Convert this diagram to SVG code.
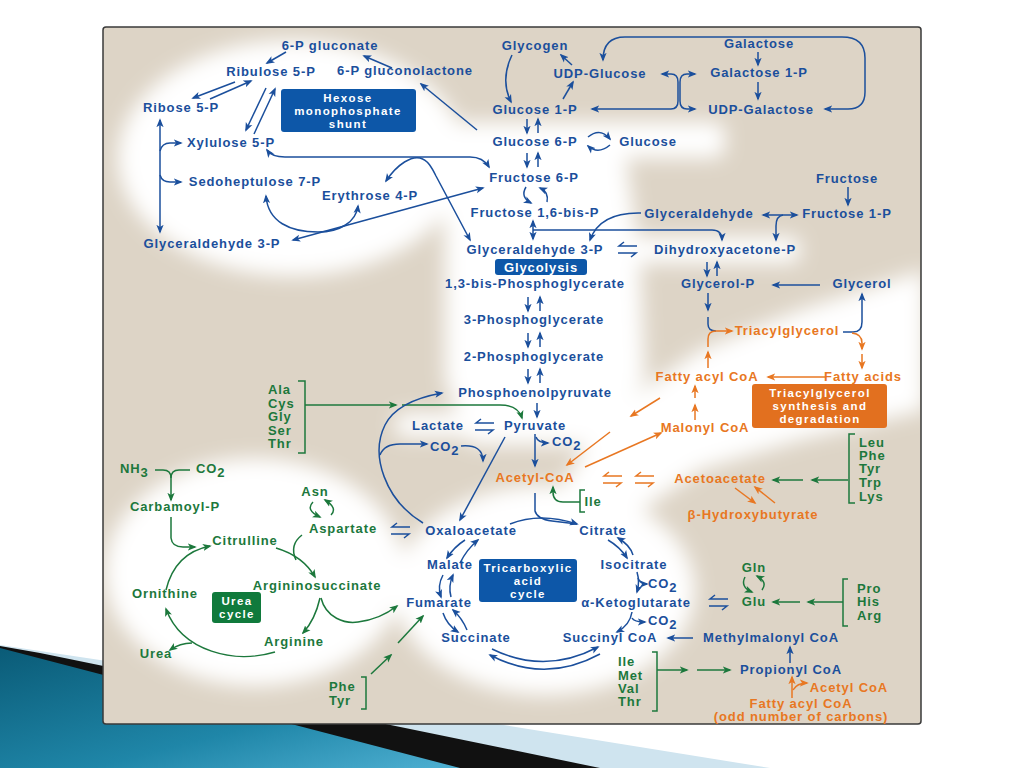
<svg xmlns="http://www.w3.org/2000/svg" width="1024" height="768" viewBox="0 0 1024 768">
<defs>
<style>
.t{font-family:"Liberation Sans",Arial,Helvetica,sans-serif;font-weight:bold;font-size:13px;letter-spacing:0.9px;text-anchor:middle}
.bx{font-size:11.5px;letter-spacing:1.4px}
.s{text-anchor:start}
.b{fill:#1b4f9c}.g{fill:#1c783c}.o{fill:#e87722}.w{fill:#fff}
.cb{fill:none;stroke:#1b4f9c;stroke-width:1.5;marker-end:url(#mb)}
.cg{fill:none;stroke:#1c783c;stroke-width:1.5;marker-end:url(#mg)}
.co{fill:none;stroke:#e87722;stroke-width:1.5;marker-end:url(#mo)}
.db{marker-start:url(#mb)}
.n{marker-end:none}
</style>
<marker id="mb" viewBox="0 0 10 10" refX="8" refY="5" markerWidth="9" markerHeight="9" markerUnits="userSpaceOnUse" orient="auto-start-reverse"><path d="M0,1L10,5L0,9L2.5,5z" fill="#1b4f9c"/></marker>
<marker id="mg" viewBox="0 0 10 10" refX="8" refY="5" markerWidth="9" markerHeight="9" markerUnits="userSpaceOnUse" orient="auto-start-reverse"><path d="M0,1L10,5L0,9L2.5,5z" fill="#1c783c"/></marker>
<marker id="mo" viewBox="0 0 10 10" refX="8" refY="5" markerWidth="9" markerHeight="9" markerUnits="userSpaceOnUse" orient="auto-start-reverse"><path d="M0,1L10,5L0,9L2.5,5z" fill="#e87722"/></marker>
<linearGradient id="teal" x1="0" y1="0" x2="1" y2="1"><stop offset="0" stop-color="#0a5b77"/><stop offset="0.6" stop-color="#1f86a8"/><stop offset="1" stop-color="#4fb0d2"/></linearGradient>
<filter id="blur" x="-30%" y="-30%" width="160%" height="160%"><feGaussianBlur stdDeviation="10"/></filter>
<clipPath id="pc"><rect x="104" y="28" width="816" height="695"/></clipPath>
<g id="hpb" fill="none" stroke="#1b4f9c" stroke-width="1.5"><path d="M19,0H1l5,-4M0,7H18l-5,4"/></g>
<g id="hpo" fill="none" stroke="#e87722" stroke-width="1.5"><path d="M19,0H1l5,-4M0,7H18l-5,4"/></g>
</defs>

<rect x="0" y="0" width="1024" height="768" fill="#ffffff"/>
<g id="slide-decoration">
<polygon points="0,645 100,660 770,768 0,768" fill="#cfe4ef"/>
<polygon points="0,646 40,653 600,768 0,768" fill="#111111"/>
<polygon points="0,648 460,768 0,768" fill="url(#teal)"/>
</g>

<g id="panel">
<rect x="103" y="27" width="818" height="697" rx="3" fill="#ddd4c6" stroke="#3a3a3a" stroke-width="1.5"/>
<g clip-path="url(#pc)"><g filter="url(#blur)" fill="#ffffff">
<ellipse cx="292" cy="158" rx="174" ry="118"/>
<rect x="455" y="122" width="270" height="36" rx="10"/>
<path d="M445,150 L625,150 L640,260 L645,380 L600,445 L470,445 L445,380 Z"/>
<rect x="600" y="237" width="200" height="26" rx="8"/>
<rect x="395" y="413" width="200" height="24" rx="8"/>
<path d="M540,525 L600,420 L700,350 L800,310 L925,270 L925,410 L800,440 L700,470 L620,525 Z"/>
<ellipse cx="545" cy="590" rx="150" ry="105"/>
<ellipse cx="255" cy="572" rx="150" ry="114"/>
</g></g>
</g>

<g id="connectors">
<path class="cb" d="M286,52 L267,63"/>
<path class="cb" d="M392,68 L364,56"/>
<path class="cb" d="M477,130 L421,84"/>
<path class="cb" d="M235,82 L193,98"/>
<path class="cb" d="M210,99 L251,81"/>
<path class="cb" d="M266,88 L246,130"/>
<path class="cb" d="M254,134 L275,89"/>
<path class="cb db" d="M160,120 L160,232"/>
<path class="cb" d="M160,151 Q162,143 170,143 L181,143"/>
<path class="cb" d="M160,175 Q162,182 170,182 L181,182"/>
<path class="cb db" d="M267,150 Q272,157 285,157 L470,157 Q483,157 489,167"/>
<path class="cb db" d="M386,181 C398,163 412,156 420,158 C428,160 432,168 436,176 L470,240"/>
<path class="cb db" d="M293,240 L483,188"/>
<path class="cb db" d="M266,196 C268,222 290,232 318,232 C340,232 356,222 358,206"/>
<path class="cb" d="M512,55 Q500,80 511,102"/>
<path class="cb" d="M563,99 L573,82"/>
<path class="cb" d="M572,65 L561,55"/>
<path class="cb db" d="M825,109 L848,109 Q865,109 865,92 L865,58 Q865,37 842,37 L625,37 Q603,37 603,60"/>
<path class="cb db" d="M662,74 L671,74 Q678,74 678,82 L678,101 Q678,109 671,109 L592,109"/>
<path class="cb db" d="M695,74 L687,74 Q680,74 680,82 L680,101 Q680,109 687,109 L695,109"/>
<path class="cb" d="M758,52 L758,65"/>
<path class="cb" d="M758,82 L758,99"/>
<path class="cb" d="M527,119 L527,133"/>
<path class="cb" d="M538,133 L538,119"/>
<path class="cb" d="M588,137 Q600,127 610,139"/>
<path class="cb" d="M610,145 Q598,155 588,146"/>
<path class="cb" d="M527,153 L527,167"/>
<path class="cb" d="M538,167 L538,153"/>
<path class="cb" d="M526,187 Q520,197 531,203"/>
<path class="cb" d="M547,202 Q549,192 540,188"/>
<path class="cb db" d="M533,221 L533,239"/>
<path class="cb" d="M533,230 L712,230 Q722,230 722,240"/>
<path class="cb" d="M641,213 Q600,212 590,240"/>
<use href="#hpb" x="618" y="246"/>
<path class="cb" d="M848,187 L848,205"/>
<path class="cb db" d="M763,215 L797,215"/>
<path class="cb" d="M783,215 Q776,216 776,226 L776,240"/>
<path class="cb" d="M707,262 L707,276"/>
<path class="cb" d="M717,276 L717,262"/>
<path class="cb" d="M820,285 L773,285"/>
<path class="cb" d="M708,293 L708,310"/>
<path class="cb n" d="M708,317 L708,324 Q708,331 716,331"/>
<path class="co" d="M708,347 L708,339 Q708,331 716,331 L732,331"/>
<path class="co" d="M708,368 L708,352"/>
<path class="cb" d="M843,332 L853,332 Q862,332 862,322 L862,294"/>
<path class="co" d="M852,333 Q862,334 862,343 L862,349"/>
<path class="co" d="M862,354 L862,368"/>
<path class="co" d="M825,377 L768,377"/>
<path class="co" d="M695,420 L695,405"/>
<path class="co" d="M695,398 L695,386"/>
<path class="co" d="M660,398 L631,416"/>
<path class="co" d="M610,432 L567,465"/>
<path class="co" d="M585,467 L661,433"/>
<use href="#hpo" x="603" y="476"/>
<use href="#hpo" x="635" y="476"/>
<path class="co" d="M735,488 L755,503"/>
<path class="co" d="M775,503 L755,487"/>
<path fill="none" stroke="#1c783c" stroke-width="1.5" d="M855,434 L849,434 L849,503 L855,503"/>
<path class="cg" d="M848,480 L812,480"/>
<path class="cg" d="M803,480 L773,480"/>
<path class="cb" d="M528,297 L528,311"/>
<path class="cb" d="M540,311 L540,297"/>
<path class="cb" d="M528,333 L528,347"/>
<path class="cb" d="M540,347 L540,333"/>
<path class="cb" d="M528,369 L528,383"/>
<path class="cb" d="M540,383 L540,369"/>
<path fill="none" stroke="#1c783c" stroke-width="1.5" d="M298,381 L305,381 L305,453 L298,453"/>
<path class="cg" d="M305,405 L396,405"/>
<path class="cg" d="M402,405 L500,405 Q518,405 522,418"/>
<path class="cb" d="M537,403 L537,417"/>
<use href="#hpb" x="475" y="423"/>
<path class="cb" d="M535,434 L535,466"/>
<path class="cb" d="M536,437 Q538,443 548,443"/>
<path class="cb" d="M505,437 L460,520"/>
<path class="cb" d="M423,523 C385,500 370,455 385,425 C395,405 420,397 442,393"/>
<path class="cb" d="M380,455 C383,447 390,444 400,444 L427,444"/>
<path class="cb" d="M461,446 Q483,444 483,461"/>
<path class="cb n" d="M535,493 L535,511 Q537,519 552,521 L577,524"/>
<path class="cb" d="M510,524 Q540,512 577,524"/>
<path fill="none" stroke="#1c783c" stroke-width="1.5" d="M585,490 L580,490 L580,512 L585,512"/>
<path class="cg" d="M580,502 L563,502 Q553,502 553,492 L553,487"/>
<path class="cb" d="M465,540 Q454,547 447,558"/>
<path class="cb" d="M460,563 Q467,549 478,540"/>
<path class="cb" d="M443,575 Q437,586 441,597"/>
<path class="cb" d="M451,597 Q448,586 453,575"/>
<path class="cb" d="M443,613 Q447,625 458,632"/>
<path class="cb" d="M467,630 Q462,618 453,610"/>
<path class="cb" d="M492,649 Q545,675 598,647"/>
<path class="cb" d="M600,654 Q545,684 490,655"/>
<path class="cb" d="M608,540 Q620,547 627,558"/>
<path class="cb" d="M633,555 Q630,545 618,538"/>
<path class="cb" d="M637,572 Q640,582 637,592"/>
<path class="cb" d="M638,578 Q640,584 647,584"/>
<path class="cb" d="M632,612 Q630,625 617,632"/>
<path class="cb" d="M632,618 Q634,622 645,622"/>
<path class="cb" d="M693,638 L668,638"/>
<path class="cb" d="M790,663 L790,647"/>
<path fill="none" stroke="#1c783c" stroke-width="1.5" d="M652,652 L657,652 L657,711 L652,711"/>
<path class="cg" d="M657,670 L687,670"/>
<path class="cg" d="M697,670 L730,670"/>
<path class="co" d="M792,698 L792,677"/>
<path class="co" d="M793,690 Q797,683 807,683"/>
<path fill="none" stroke="#1c783c" stroke-width="1.5" d="M848,579 L843,579 L843,626 L848,626"/>
<path class="cg" d="M843,602 L808,602"/>
<path class="cg" d="M800,602 L773,602"/>
<path class="cg" d="M745,577 Q740,587 752,592"/>
<path class="cg" d="M762,590 Q768,582 757,576"/>
<use href="#hpb" x="709" y="599"/>
<use href="#hpb" x="391" y="527"/>
<path class="cg" d="M155,470 L163,470 Q171,470 171,478 L171,500"/>
<path fill="none" stroke="#1c783c" stroke-width="1.5" d="M190,470 L179,470 Q171,470 171,478"/>
<path class="cg" d="M171,517 L171,538 Q172,547 183,547 L195,547"/>
<path class="cg" d="M166,590 Q175,553 210,546"/>
<path class="cg" d="M276,548 Q303,556 315,577"/>
<path fill="none" stroke="#1c783c" stroke-width="1.5" d="M302,535 Q289,545 296,560"/>
<path class="cg" d="M313,502 Q305,510 320,517"/>
<path class="cg" d="M331,515 Q338,508 325,500"/>
<path class="cg" d="M320,598 Q315,620 303,633"/>
<path class="cg" d="M321,598 C326,618 345,624 358,622 C375,620 388,613 397,606"/>
<path class="cg" d="M275,652 C235,664 182,652 166,609"/>
<path class="cg" d="M192,643 Q180,643 170,650"/>
<path fill="none" stroke="#1c783c" stroke-width="1.5" d="M361,677 L366,677 L366,709 L361,709"/>
<path class="cg" d="M371,674 L391,655"/>
<path class="cg" d="M398,643 L423,616"/>
</g>

<g id="hmp-box"><rect x="281" y="89" width="135" height="43" rx="3" fill="#0d57a8"/>
<text class="t bx w" x="348" y="102">Hexose</text><text class="t bx w" x="348" y="115">monophosphate</text><text class="t bx w" x="348" y="128">shunt</text></g>
<g id="glycolysis-box"><rect x="495" y="259" width="92" height="16" rx="3" fill="#0d57a8"/><text class="t w" x="541" y="272">Glycolysis</text></g>
<g id="tca-box"><rect x="479" y="559" width="98" height="43" rx="3" fill="#0d57a8"/>
<text class="t bx w" x="528" y="572">Tricarboxylic</text><text class="t bx w" x="528" y="585">acid</text><text class="t bx w" x="528" y="598">cycle</text></g>
<g id="urea-box"><rect x="212" y="592" width="49" height="31" rx="3" fill="#107a3c"/>
<text class="t bx w" x="237" y="605">Urea</text><text class="t bx w" x="237" y="618">cycle</text></g>
<g id="tag-box"><rect x="752" y="384" width="135" height="44" rx="3" fill="#e2701f"/>
<text class="t bx w" x="820" y="397">Triacylglycerol</text><text class="t bx w" x="820" y="410">synthesis and</text><text class="t bx w" x="820" y="423">degradation</text></g>

<g id="n-6pgluconate"><text class="t b" x="330" y="50">6-P gluconate</text></g>
<g id="n-ribulose5p"><text class="t b" x="271" y="76">Ribulose 5-P</text></g>
<g id="n-6pgluconolactone"><text class="t b" x="405" y="75">6-P gluconolactone</text></g>
<g id="n-ribose5p"><text class="t b" x="181" y="112">Ribose 5-P</text></g>
<g id="n-xylulose5p"><text class="t b" x="231" y="147">Xylulose 5-P</text></g>
<g id="n-sedoheptulose7p"><text class="t b" x="255" y="186">Sedoheptulose 7-P</text></g>
<g id="n-erythrose4p"><text class="t b" x="370" y="200">Erythrose 4-P</text></g>
<g id="n-ga3p-left"><text class="t b" x="212" y="248">Glyceraldehyde 3-P</text></g>
<g id="n-glycogen"><text class="t b" x="535" y="50">Glycogen</text></g>
<g id="n-udpglucose"><text class="t b" x="600" y="78">UDP-Glucose</text></g>
<g id="n-galactose"><text class="t b" x="759" y="48">Galactose</text></g>
<g id="n-galactose1p"><text class="t b" x="759" y="77">Galactose 1-P</text></g>
<g id="n-glucose1p"><text class="t b" x="535" y="114">Glucose 1-P</text></g>
<g id="n-udpgalactose"><text class="t b" x="761" y="114">UDP-Galactose</text></g>
<g id="n-glucose6p"><text class="t b" x="535" y="146">Glucose 6-P</text></g>
<g id="n-glucose"><text class="t b" x="648" y="146">Glucose</text></g>
<g id="n-fructose"><text class="t b" x="847" y="183">Fructose</text></g>
<g id="n-fructose6p"><text class="t b" x="534" y="182">Fructose 6-P</text></g>
<g id="n-fructose16bp"><text class="t b" x="535" y="217">Fructose 1,6-bis-P</text></g>
<g id="n-glyceraldehyde"><text class="t b" x="699" y="218">Glyceraldehyde</text></g>
<g id="n-fructose1p"><text class="t b" x="847" y="218">Fructose 1-P</text></g>
<g id="n-ga3p"><text class="t b" x="535" y="254">Glyceraldehyde 3-P</text></g>
<g id="n-dhap"><text class="t b" x="725" y="254">Dihydroxyacetone-P</text></g>
<g id="n-13bpg"><text class="t b" x="535" y="288">1,3-bis-Phosphoglycerate</text></g>
<g id="n-glycerolp"><text class="t b" x="718" y="288">Glycerol-P</text></g>
<g id="n-glycerol"><text class="t b" x="862" y="288">Glycerol</text></g>
<g id="n-3pg"><text class="t b" x="534" y="324">3-Phosphoglycerate</text></g>
<g id="n-tag"><text class="t o" x="787" y="335">Triacylglycerol</text></g>
<g id="n-2pg"><text class="t b" x="534" y="361">2-Phosphoglycerate</text></g>
<g id="n-fattyacylcoa"><text class="t o" x="707" y="381">Fatty acyl CoA</text></g>
<g id="n-fattyacids"><text class="t o" x="863" y="381">Fatty acids</text></g>
<g id="n-pep"><text class="t b" x="535" y="397">Phosphoenolpyruvate</text></g>
<g id="n-aa-pyruvate"><text class="t g s" x="268" y="394">Ala</text><text class="t g s" x="268" y="408">Cys</text><text class="t g s" x="268" y="421">Gly</text><text class="t g s" x="268" y="435">Ser</text><text class="t g s" x="268" y="448">Thr</text></g>
<g id="n-lactate"><text class="t b" x="438" y="430">Lactate</text></g>
<g id="n-pyruvate"><text class="t b" x="535" y="430">Pyruvate</text></g>
<g id="n-co2-pdh"><text class="t b s" x="552" y="446">CO<tspan dy="4">2</tspan></text></g>
<g id="n-malonylcoa"><text class="t o" x="705" y="432">Malonyl CoA</text></g>
<g id="n-aa-ketogenic"><text class="t g s" x="859" y="447">Leu</text><text class="t g s" x="859" y="460">Phe</text><text class="t g s" x="859" y="473">Tyr</text><text class="t g s" x="859" y="487">Trp</text><text class="t g s" x="859" y="501">Lys</text></g>
<g id="n-co2-pc"><text class="t b s" x="430" y="451">CO<tspan dy="4">2</tspan></text></g>
<g id="n-nh3"><text class="t g s" x="120" y="473">NH<tspan dy="4">3</tspan></text></g>
<g id="n-co2-urea"><text class="t g s" x="196" y="473">CO<tspan dy="4">2</tspan></text></g>
<g id="n-acetylcoa"><text class="t o" x="535" y="482">Acetyl-CoA</text></g>
<g id="n-acetoacetate"><text class="t o" x="720" y="483">Acetoacetate</text></g>
<g id="n-asn"><text class="t g" x="315" y="496">Asn</text></g>
<g id="n-ile-acetyl"><text class="t g" x="593" y="506">Ile</text></g>
<g id="n-carbamoylp"><text class="t g" x="175" y="511">Carbamoyl-P</text></g>
<g id="n-bhb"><text class="t o" x="753" y="519">β-Hydroxybutyrate</text></g>
<g id="n-aspartate"><text class="t g" x="343" y="533">Aspartate</text></g>
<g id="n-oxaloacetate"><text class="t b" x="471" y="535">Oxaloacetate</text></g>
<g id="n-citrate"><text class="t b" x="603" y="535">Citrate</text></g>
<g id="n-citrulline"><text class="t g" x="245" y="545">Citrulline</text></g>
<g id="n-malate"><text class="t b" x="450" y="569">Malate</text></g>
<g id="n-isocitrate"><text class="t b" x="634" y="569">Isocitrate</text></g>
<g id="n-gln"><text class="t g" x="754" y="572">Gln</text></g>
<g id="n-argininosuccinate"><text class="t g" x="317" y="590">Argininosuccinate</text></g>
<g id="n-co2-idh"><text class="t b s" x="648" y="588">CO<tspan dy="4">2</tspan></text></g>
<g id="n-ornithine"><text class="t g" x="165" y="598">Ornithine</text></g>
<g id="n-aa-glu"><text class="t g s" x="857" y="593">Pro</text><text class="t g s" x="857" y="606">His</text><text class="t g s" x="857" y="620">Arg</text></g>
<g id="n-fumarate"><text class="t b" x="439" y="607">Fumarate</text></g>
<g id="n-akg"><text class="t b" x="636" y="607">α-Ketoglutarate</text></g>
<g id="n-glu"><text class="t g" x="754" y="606">Glu</text></g>
<g id="n-co2-akgdh"><text class="t b s" x="648" y="625">CO<tspan dy="4">2</tspan></text></g>
<g id="n-succinate"><text class="t b" x="476" y="642">Succinate</text></g>
<g id="n-succinylcoa"><text class="t b" x="610" y="642">Succinyl CoA</text></g>
<g id="n-methylmalonylcoa"><text class="t b" x="771" y="642">Methylmalonyl CoA</text></g>
<g id="n-arginine"><text class="t g" x="294" y="646">Arginine</text></g>
<g id="n-urea"><text class="t g" x="156" y="658">Urea</text></g>
<g id="n-aa-propionyl"><text class="t g s" x="618" y="666">Ile</text><text class="t g s" x="618" y="680">Met</text><text class="t g s" x="618" y="693">Val</text><text class="t g s" x="618" y="706">Thr</text></g>
<g id="n-propionylcoa"><text class="t b" x="791" y="674">Propionyl CoA</text></g>
<g id="n-acetylcoa2"><text class="t o" x="849" y="692">Acetyl CoA</text></g>
<g id="n-aa-fumarate"><text class="t g s" x="329" y="691">Phe</text><text class="t g s" x="329" y="705">Tyr</text></g>
<g id="n-oddfattyacyl"><text class="t o" x="801" y="708">Fatty acyl CoA</text><text class="t o" x="801" y="721">(odd number of carbons)</text></g>
</svg>
